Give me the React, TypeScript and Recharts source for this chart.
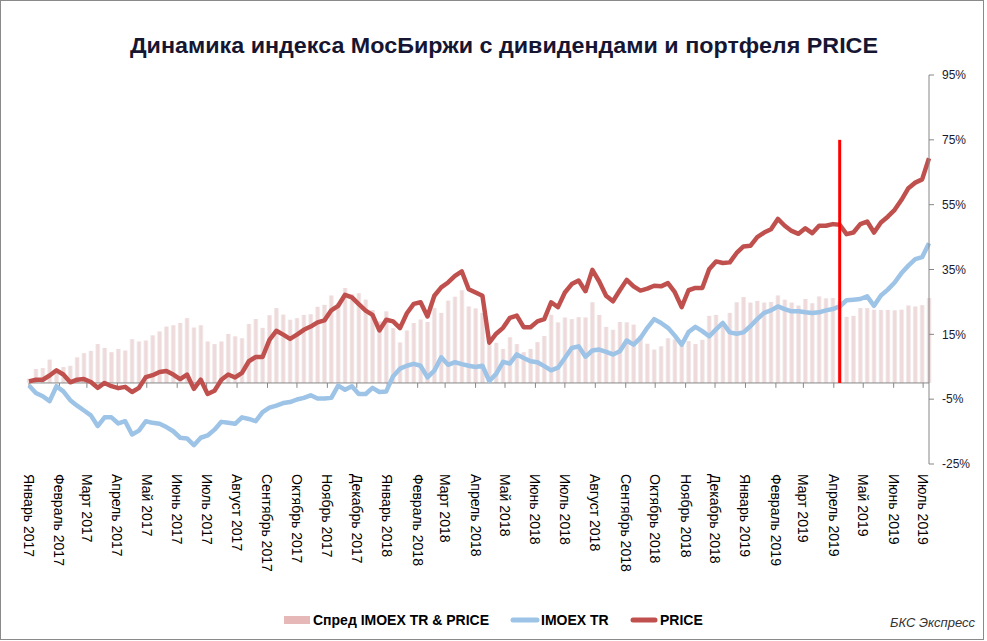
import {
  Bar,
  ComposedChart,
  Line,
  ReferenceLine,
  XAxis,
  YAxis,
} from "recharts";

// weekly points, Jan 2017 - Jul 2019, % change
const PRICE = [
  0.5, 1.0, 1.0, 2.3, 3.9, 2.6, 0.2, 1.0, 1.2, 0.3, -1.5, 0.0, -1.0, -1.6, -1.2, -2.8, -1.5, 1.8, 2.4, 3.4,
  3.7, 2.6, 1.2, 2.6, -1.8, 1.0, -3.4, -2.4, 1.0, 2.6, 1.7, 3.1, 6.7, 8.0,
  8.0, 13.3, 16.1, 14.9, 13.6, 14.9, 16.4, 17.4, 18.7, 19.3, 22.4, 23.8, 27.2, 26.4, 24.3, 22.3, 21.0, 16.2,
  19.5, 19.0, 16.9, 21.5, 24.4, 24.9, 20.5, 26.9, 29.5, 31.0, 33.0, 34.4, 28.9, 27.9, 26.9, 12.4,
  15.2, 17.0, 20.1, 20.8, 17.2, 17.2, 19.0, 19.7, 24.9, 23.4, 27.9, 30.5, 31.6, 28.3, 34.9, 31.3, 26.9, 25.2,
  28.6, 31.8, 29.8, 28.5, 29.1, 30.0, 29.8, 30.8, 28.0, 23.4, 28.6, 29.3, 29.3,
  35.1, 37.5, 37.0, 37.2, 40.1, 42.1, 42.3, 45.0, 46.4, 47.4, 50.6, 48.5, 46.9, 46.0, 47.7, 46.2, 48.5, 48.5,
  49.0, 48.8, 45.9, 46.4, 49.0, 49.8, 46.4, 49.5, 51.3, 53.4, 56.5, 60.1, 61.8, 62.8, 69.3,
];

const IMOEX_TR = [
  -0.8, -3.1, -4.1, -5.6, -1.0, -2.6, -5.3, -7.0, -8.5, -10.0, -13.3, -10.6, -10.6, -12.5, -11.8, -15.9, -14.7,
  -11.8, -12.3, -12.6, -13.6, -14.9, -16.9, -17.1, -19.2, -16.9, -16.2, -14.4, -12.0, -12.3, -12.6, -10.6, -11.1,
  -11.8,
  -9.0, -7.6, -7.0, -6.2, -5.9, -5.1, -4.6, -3.8, -4.8, -4.8, -4.6, -0.8, -2.1, -1.0, -3.4, -3.4, -1.5, -2.8,
  -2.6, 2.1, 4.4, 5.3, 5.9, 5.3, 1.7, 3.8, 7.9, 5.6, 6.4, 5.8, 5.3, 4.9, 5.3, 0.6,
  2.8, 6.5, 6.0, 8.8, 7.7, 6.7, 6.4, 5.2, 3.9, 4.7, 7.7, 10.8, 11.3, 8.1, 10.0, 10.3, 9.6, 8.8, 9.8, 13.1,
  11.8, 13.9, 17.0, 19.7, 18.5, 17.0, 14.6, 11.8, 15.7, 17.3, 16.0,
  14.4, 16.5, 18.5, 15.6, 15.2, 15.6, 17.5, 19.7, 21.6, 22.4, 23.6, 22.8, 22.1, 22.1, 21.8, 21.6, 21.8, 22.4,
  22.8, 23.6, 25.5, 25.7, 25.9, 26.7, 23.8, 27.0, 28.8, 31.0, 33.9, 36.2, 38.2, 38.8, 43.1,
];

const SPREAD = [
  1.3, 4.3, 4.6, 7.2, 4.3, 4.9, 5.3, 7.9, 9.2, 9.9, 12.0, 10.8, 9.5, 10.5, 10.0, 13.5, 12.8, 13.1, 14.7, 15.9,
  17.4, 17.8, 18.5, 20.0, 17.1, 17.8, 12.8, 12.0, 12.8, 15.1, 14.4, 13.8, 18.2, 19.7,
  17.0, 20.9, 23.1, 21.1, 19.5, 20.0, 21.0, 21.2, 23.5, 24.1, 27.0, 24.6, 29.3, 27.4, 27.7, 25.7, 22.5, 19.0,
  22.1, 16.9, 12.5, 16.2, 18.5, 19.6, 18.8, 23.1, 21.6, 25.4, 26.6, 28.6, 23.6, 23.0, 21.6, 11.8,
  12.4, 10.5, 14.1, 12.0, 9.5, 10.5, 12.6, 14.5, 21.0, 18.7, 20.2, 19.7, 20.3, 20.2, 24.9, 21.0, 17.3, 16.4,
  18.8, 18.7, 18.0, 14.6, 12.1, 10.3, 11.3, 13.8, 13.4, 11.6, 12.9, 12.0, 13.3,
  20.7, 21.0, 18.5, 21.6, 24.9, 26.5, 24.8, 25.3, 24.8, 25.0, 27.0, 25.7, 24.8, 23.9, 25.9, 24.6, 26.7, 26.1,
  26.2, 25.2, 20.4, 20.7, 23.1, 23.1, 22.6, 22.5, 22.5, 22.4, 22.6, 23.9, 23.6, 24.0, 26.2,
];

const MONTH_LABELS = [
  "Январь 2017", "Февраль 2017", "Март 2017", "Апрель 2017", "Май 2017", "Июнь 2017",
  "Июль 2017", "Август 2017", "Сентябрь 2017", "Октябрь 2017", "Ноябрь 2017", "Декабрь 2017",
  "Январь 2018", "Февраль 2018", "Март 2018", "Апрель 2018", "Май 2018", "Июнь 2018",
  "Июль 2018", "Август 2018", "Сентябрь 2018", "Октябрь 2018", "Ноябрь 2018", "Декабрь 2018",
  "Январь 2019", "Февраль 2019", "Март 2019", "Апрель 2019", "Май 2019", "Июнь 2019",
  "Июль 2019",
];

const Y_TICKS = [-25, -5, 15, 35, 55, 75, 95];

// vertical marker (week index, top value)
const MARKER_WEEK = 118;
const MARKER_TOP = 75;

const WEEK_MS = 7 * 24 * 3600 * 1000;
const START = Date.UTC(2017, 0, 1);
// month start positions in weeks from the first point
const MONTH_TICKS = MONTH_LABELS.map((_, i) => {
  const d = Date.UTC(2017 + Math.floor(i / 12), i % 12, 1);
  return (d - START) / WEEK_MS;
});

const data = PRICE.map((price, i) => ({
  week: i,
  price,
  imoex: IMOEX_TR[i],
  spread: SPREAD[i],
}));

const FONT = "'Liberation Sans', Arial, sans-serif";

function MonthTick(props: any) {
  const { x, y, payload } = props;
  const idx = MONTH_TICKS.indexOf(payload.value);
  return (
    <text
      x={x}
      y={y}
      transform={`rotate(90, ${x}, ${y})`}
      textAnchor="start"
      dominantBaseline="central"
      fontSize={14}
      fontFamily={FONT}
      fill="#000"
    >
      {MONTH_LABELS[idx]}
    </text>
  );
}

export default function App() {
  return (
    <div
      style={{
        position: "absolute",
        left: 0,
        top: 0,
        width: 987,
        height: 641,
        background: "#fff",
      }}
    >
      <div
        style={{
          position: "absolute",
          left: 0,
          top: 0,
          width: 984,
          height: 640,
          border: "1px solid #8a8a8a",
          boxSizing: "border-box",
        }}
      />
      <ComposedChart
        width={987}
        height={641}
        data={data}
        margin={{ top: 75, right: 13, bottom: 77, left: 29 }}
        style={{ position: "absolute", left: 0, top: 0 }}
      >
        <defs>
          <linearGradient id="spreadFill" x1="0" y1="0" x2="1" y2="0">
            <stop offset="0%" stopColor="#f5f3f3" />
            <stop offset="30%" stopColor="#efdadb" />
            <stop offset="70%" stopColor="#efdadb" />
            <stop offset="100%" stopColor="#f5f3f3" />
          </linearGradient>
        </defs>
        <XAxis
          type="number"
          dataKey="week"
          domain={[0, 131]}
          ticks={MONTH_TICKS}
          interval={0}
          axisLine={false}
          tickLine={false}
          tickSize={0}
          tickMargin={10}
          height={100}
          tick={<MonthTick />}
        />
        <YAxis
          orientation="right"
          domain={[-25, 95]}
          ticks={Y_TICKS}
          interval={0}
          width={45}
          stroke="#868686"
          tickSize={5}
          tickMargin={8}
          tickFormatter={(v: number) => `${v}%`}
          tick={{ fill: "#1a1a2e", fontSize: 12, fontFamily: FONT }}
        />
        <Bar
          dataKey="spread"
          fill="url(#spreadFill)"
          barSize={5}
          isAnimationActive={false}
        />
        <ReferenceLine y={0} stroke="#868686" strokeWidth={1} />
        {MONTH_TICKS.map((t) => (
          <ReferenceLine
            key={t}
            segment={[
              { x: t, y: 0 },
              { x: t, y: -1.5 },
            ]}
            stroke="#868686"
            strokeWidth={1}
          />
        ))}
        <Line
          dataKey="imoex"
          type="linear"
          stroke="#9DC3E6"
          strokeWidth={4.5}
          strokeLinejoin="round"
          dot={false}
          isAnimationActive={false}
        />
        <Line
          dataKey="price"
          type="linear"
          stroke="#C0504D"
          strokeWidth={4.5}
          strokeLinejoin="round"
          dot={false}
          isAnimationActive={false}
        />
        <ReferenceLine
          segment={[
            { x: MARKER_WEEK, y: 0 },
            { x: MARKER_WEEK, y: MARKER_TOP },
          ]}
          stroke="#FF0000"
          strokeWidth={3}
        />
      </ComposedChart>
      <svg
        width={987}
        height={641}
        style={{ position: "absolute", left: 0, top: 0, pointerEvents: "none" }}
      >
        <text
          x={504}
          y={53}
          textAnchor="middle"
          fontSize={22}
          fontWeight="bold"
          fontFamily={FONT}
          fill="#161633"
          textLength={748}
          lengthAdjust="spacingAndGlyphs"
        >
          Динамика индекса МосБиржи с дивидендами и портфеля PRICE
        </text>
        <g fontFamily={FONT} fontSize={14} fontWeight="bold" fill="#000">
          <rect x={284} y={616} width={26} height={8} fill="#E6B9B8" />
          <text x={313} y={625}>Спред IMOEX TR &amp; PRICE</text>
          <line x1={513} x2={537} y1={620} y2={620} stroke="#9DC3E6" strokeWidth={5} strokeLinecap="round" />
          <text x={541} y={625}>IMOEX TR</text>
          <line x1={633} x2={655} y1={620} y2={620} stroke="#C0504D" strokeWidth={5} strokeLinecap="round" />
          <text x={660} y={625}>PRICE</text>
        </g>
        <text
          x={975}
          y={627}
          textAnchor="end"
          fontSize={13}
          fontStyle="italic"
          fontFamily={FONT}
          fill="#333"
        >
          БКС Экспресс
        </text>
      </svg>
    </div>
  );
}
